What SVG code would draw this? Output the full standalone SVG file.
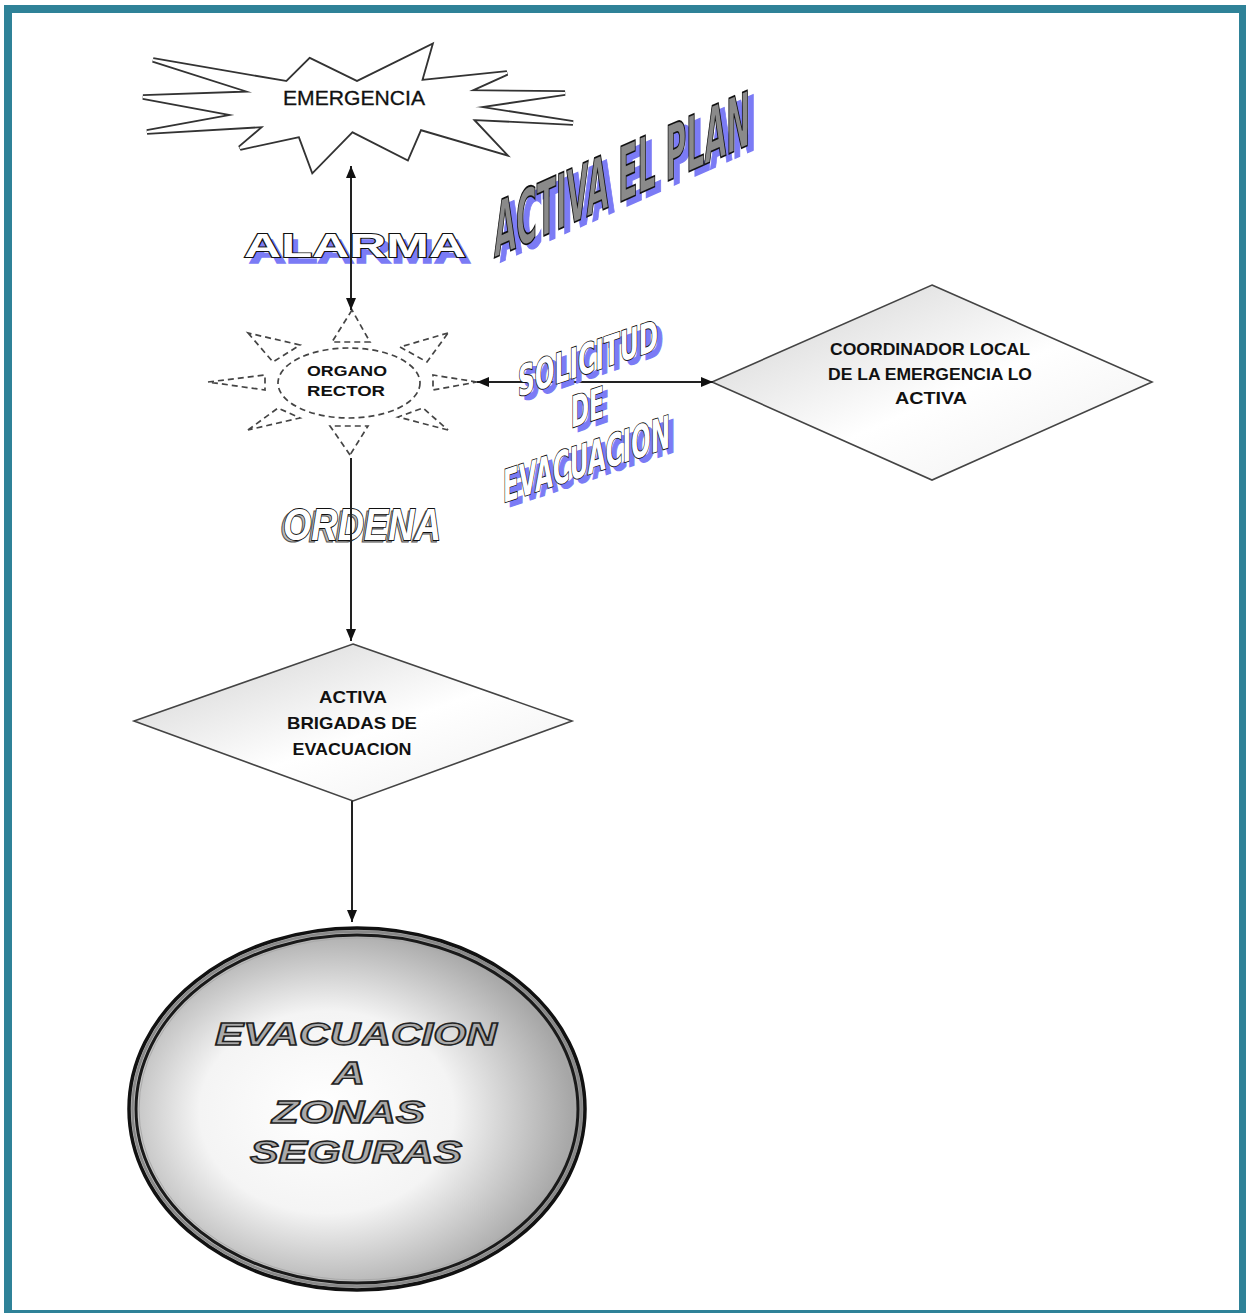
<svg xmlns="http://www.w3.org/2000/svg" width="1246" height="1313" viewBox="0 0 1246 1313">
<defs>
<style>
.conn{fill:none;stroke:#222;stroke-width:2}
.ray{fill:none;stroke:#444;stroke-width:1.7;stroke-dasharray:6,4}
.dia{stroke:#444;stroke-width:1.6}
.bt{font-family:"Liberation Sans",Arial,sans-serif;font-weight:bold;fill:#111;text-anchor:middle}
.narrow{font-family:"Liberation Sans Narrow","DejaVu Sans Condensed","Liberation Sans",sans-serif;font-weight:bold;font-stretch:condensed}
.wide{font-family:"Liberation Sans",Arial,sans-serif;font-weight:bold}
.sh{fill:#7b7bf5;stroke:#7b7bf5;stroke-width:1.5}
.wfront{fill:#fff;stroke:#111;stroke-width:1.8;paint-order:stroke}
.gfront{fill:#a9a9a9;stroke:#222;stroke-width:1.4}
</style>
<marker id="arr" viewBox="0 0 12 10" refX="12" refY="5" markerWidth="12" markerHeight="10" markerUnits="userSpaceOnUse" orient="auto-start-reverse">
<path d="M0,0 L12,5 L0,10 z" fill="#111"/>
</marker>
<linearGradient id="gdia" x1="0" y1="0" x2="1" y2="1">
<stop offset="0" stop-color="#cfcfcf"/>
<stop offset="0.55" stop-color="#ffffff"/>
<stop offset="1" stop-color="#eeeeee"/>
</linearGradient>
<radialGradient id="gell" cx="0.45" cy="0.52" r="0.62" fx="0.42" fy="0.5">
<stop offset="0" stop-color="#ffffff"/>
<stop offset="0.45" stop-color="#f4f4f4"/>
<stop offset="1" stop-color="#8a8a8a"/>
</radialGradient>
<polygon id="burst" points="310,60 357,83 430,47 420,82 507,73 465,92 565,93 470,107 573,123 470,118 502,152 420,128 407,158 352,130 313,170 300,135 240,148 267,125 147,132 240,115 143,97 257,93 153,60 287,83"/>
</defs>
<rect x="0" y="0" width="1246" height="1313" fill="#fff"/>
<rect x="8" y="9" width="1235" height="1305" fill="#fff" stroke="#2f8298" stroke-width="8"/>

<g id="emergencia">
<use href="#burst" fill="#fff" stroke="#333" stroke-width="5.5"/>
<use href="#burst" fill="#fff" stroke="#fff" stroke-width="1.8"/>
<text x="354" y="105" font-family="Liberation Sans,Arial,sans-serif" font-size="20" fill="#111" text-anchor="middle" textLength="142" lengthAdjust="spacingAndGlyphs" stroke="#111" stroke-width="0.3">EMERGENCIA</text>
</g>

<g id="organo">
<polygon class="ray" points="352,310 332,342 370,342"/>
<polygon class="ray" points="248,333 273,362 300,345"/>
<polygon class="ray" points="448,333 400,347 427,362"/>
<polygon class="ray" points="208,382 265,375 265,390"/>
<polygon class="ray" points="477,382 433,375 433,390"/>
<polygon class="ray" points="248,430 278,408 300,418"/>
<polygon class="ray" points="448,430 398,417 423,408"/>
<polygon class="ray" points="350,455 330,426 368,426"/>
<ellipse class="ray" cx="349" cy="383" rx="71" ry="35"/>
<text class="bt" x="347" y="376" font-size="15" textLength="80" lengthAdjust="spacingAndGlyphs">ORGANO</text>
<text class="bt" x="346" y="396" font-size="15" textLength="78" lengthAdjust="spacingAndGlyphs">RECTOR</text>
</g>

<g id="coordinador">
<polygon class="dia" points="932,285 1152,382 932,480 712,382" fill="url(#gdia)"/>
<text class="bt" x="930" y="355" font-size="17" textLength="200" lengthAdjust="spacingAndGlyphs">COORDINADOR LOCAL</text>
<text class="bt" x="930" y="380" font-size="17" textLength="204" lengthAdjust="spacingAndGlyphs">DE LA EMERGENCIA LO</text>
<text class="bt" x="931" y="404" font-size="17" textLength="72" lengthAdjust="spacingAndGlyphs">ACTIVA</text>
</g>

<g id="brigadas">
<polygon class="dia" points="353,644 572,721 353,801 134,721" fill="url(#gdia)"/>
<text class="bt" x="353" y="703" font-size="17" textLength="68" lengthAdjust="spacingAndGlyphs">ACTIVA</text>
<text class="bt" x="352" y="729" font-size="17" textLength="130" lengthAdjust="spacingAndGlyphs">BRIGADAS DE</text>
<text class="bt" x="352" y="755" font-size="17" textLength="119" lengthAdjust="spacingAndGlyphs">EVACUACION</text>
</g>

<g id="evacuacion">
<ellipse cx="357" cy="1109" rx="228" ry="181" fill="url(#gell)" stroke="#111" stroke-width="3.5"/>
<ellipse cx="357" cy="1109" rx="224.5" ry="177.5" fill="none" stroke="#888" stroke-width="2.5"/>
<ellipse cx="357" cy="1109" rx="221" ry="174" fill="none" stroke="#1a1a1a" stroke-width="3"/>
<ellipse cx="357" cy="1109" rx="218" ry="171" fill="none" stroke="#aaa" stroke-width="1"/>
<g class="wide" font-style="italic" font-size="31">
<text class="gfront" x="215" y="1045" textLength="282" lengthAdjust="spacingAndGlyphs">EVACUACION</text>
<text class="gfront" x="333" y="1084" textLength="32" lengthAdjust="spacingAndGlyphs">A</text>
<text class="gfront" x="272" y="1123" textLength="153" lengthAdjust="spacingAndGlyphs">ZONAS</text>
<text class="gfront" x="250" y="1163" textLength="212" lengthAdjust="spacingAndGlyphs">SEGURAS</text>
</g>
</g>

<g id="label-alarma" class="wide" font-size="34">
<text class="sh" x="249" y="263" textLength="222" lengthAdjust="spacingAndGlyphs">ALARMA</text>
<text class="wfront" x="244" y="257" textLength="222" lengthAdjust="spacingAndGlyphs">ALARMA</text>
</g>

<g id="label-ordena" class="wide" font-style="italic" font-size="44">
<text x="280" y="542" fill="#bbb" stroke="#555" stroke-width="1.2" textLength="159" lengthAdjust="spacingAndGlyphs">ORDENA</text>
<text class="wfront" x="283" y="540" textLength="158" lengthAdjust="spacingAndGlyphs">ORDENA</text>
</g>

<g id="connectors">
<line class="conn" x1="351" y1="166" x2="351" y2="310" marker-start="url(#arr)" marker-end="url(#arr)"/>
<line class="conn" x1="477" y1="382" x2="713" y2="382" marker-start="url(#arr)" marker-end="url(#arr)"/>
<line class="conn" x1="351" y1="458" x2="351" y2="641" marker-end="url(#arr)"/>
<line class="conn" x1="352" y1="801" x2="352" y2="922" marker-end="url(#arr)"/>
</g>

<g id="label-solicitud" class="narrow">
<g transform="translate(518,397) skewY(-18.8)">
<text class="sh" x="5" y="6" font-size="42" textLength="140" lengthAdjust="spacingAndGlyphs">SOLICITUD</text>
<text class="wfront" x="0" y="0" font-size="42" textLength="140" lengthAdjust="spacingAndGlyphs">SOLICITUD</text>
</g>
<g transform="translate(571,428) skewY(-18.8)">
<text class="sh" x="5" y="6" font-size="43" textLength="33" lengthAdjust="spacingAndGlyphs">DE</text>
<text class="wfront" x="0" y="0" font-size="43" textLength="33" lengthAdjust="spacingAndGlyphs">DE</text>
</g>
<g transform="translate(503,503) skewY(-18.5)">
<text class="sh" x="5" y="6" font-size="45" textLength="167" lengthAdjust="spacingAndGlyphs">EVACUACION</text>
<text class="wfront" x="0" y="0" font-size="45" textLength="167" lengthAdjust="spacingAndGlyphs">EVACUACION</text>
</g>
</g>

<g id="label-activa-plan" class="narrow">
<g transform="translate(494,258) skewY(-23.9)">
<text class="sh" x="6" y="7" font-size="76" textLength="256" lengthAdjust="spacingAndGlyphs">ACTIVA EL PLAN</text>
<text x="0" y="0" font-size="76" fill="#8a8a8a" stroke="#111" stroke-width="1.8" textLength="256" lengthAdjust="spacingAndGlyphs">ACTIVA EL PLAN</text>
</g>
</g>
</svg>
